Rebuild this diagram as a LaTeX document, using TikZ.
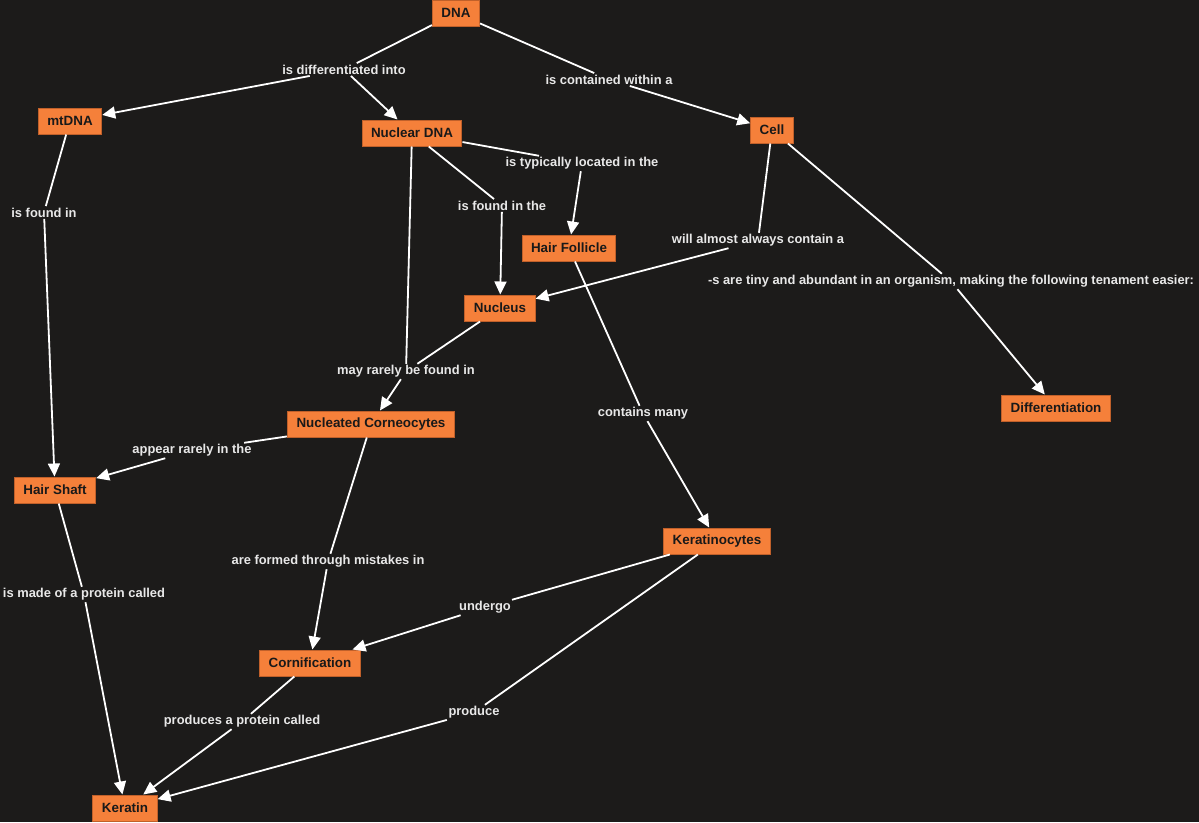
\documentclass[tikz,border=0pt]{standalone}
\usepackage{fontspec}
\setmainfont{Liberation Sans}
\usetikzlibrary{arrows.meta}
\definecolor{bgdark}{HTML}{1C1B1A}
\definecolor{cmaporange}{HTML}{F5803A}
\definecolor{cmapedge}{HTML}{C0602A}
\definecolor{linkgray}{HTML}{E8E8E8}
\begin{document}
\begin{tikzpicture}[
  x=1pt,y=-1pt,
  concept/.style={draw=cmapedge,fill=cmaporange,line width=1pt,minimum height=26pt,inner xsep=9pt,inner ysep=0pt,font=\fontsize{13.4}{15}\selectfont\bfseries,text=black!90},
  linkword/.style={fill=bgdark,inner sep=1.5pt,yshift=-1.5pt,text=linkgray,font=\fontsize{12.9}{14}\selectfont\bfseries},
  link/.style={white,line width=1.8pt},
  arrowlink/.style={link,-{Triangle[length=13pt,width=12pt]}}
]
  \fill[bgdark] (0,0) rectangle (1199,822);
  \useasboundingbox (0,0) rectangle (1199,822);

  \node[concept] (dna) at (456,13) {DNA};
  \node[concept] (mtdna) at (70,121) {mtDNA};
  \node[concept] (nucdna) at (412,133) {Nuclear DNA};
  \node[concept] (cell) at (772,130) {Cell};
  \node[concept] (follicle) at (569,248) {Hair Follicle};
  \node[concept] (nucleus) at (500,308) {Nucleus};
  \node[concept] (diff) at (1056,408) {Differentiation};
  \node[concept] (corneo) at (371,424) {Nucleated Corneocytes};
  \node[concept] (shaft) at (55,490) {Hair Shaft};
  \node[concept] (kcytes) at (717,541) {Keratinocytes};
  \node[concept] (cornif) at (310,663) {Cornification};
  \node[concept] (keratin) at (125,808) {Keratin};

  \node[linkword] (lDiffInto) at (344,68) {is differentiated into};
  \node[linkword] (lContained) at (609,78) {is contained within a};
  \node[linkword] (lFoundIn) at (44,211) {is found in};
  \node[linkword] (lLocated) at (582,162) {is typically located in the};
  \node[linkword] (lFoundThe) at (502,204) {is found in the};
  \node[linkword] (lContain) at (758,239) {will almost always contain a};
  \node[linkword] (lTiny) at (951,280) {-s are tiny and abundant in an organism, making the following tenament easier:};
  \node[linkword] (lRarely) at (406,370) {may rarely be found in};
  \node[linkword] (lMany) at (643,412) {contains many};
  \node[linkword] (lAppear) at (192,449) {appear rarely in the};
  \node[linkword] (lMistakes) at (328,560) {are formed through mistakes in};
  \node[linkword] (lMadeOf) at (84,593) {is made of a protein called};
  \node[linkword] (lUndergo) at (485,606) {undergo};
  \node[linkword] (lProduce) at (474,711) {produce};
  \node[linkword] (lProtein) at (242,720) {produces a protein called};

  \draw[link] (dna) -- (lDiffInto);
  \draw[arrowlink] (lDiffInto) -- (mtdna);
  \draw[arrowlink] (lDiffInto) -- (nucdna);
  \draw[link] (dna) -- (lContained);
  \draw[arrowlink] (lContained) -- (cell);
  \draw[link] (mtdna) -- (lFoundIn);
  \draw[arrowlink] (lFoundIn) -- (shaft);
  \draw[link] (nucdna) -- (lLocated);
  \draw[arrowlink] (lLocated) -- (follicle);
  \draw[link] (nucdna) -- (lFoundThe);
  \draw[arrowlink] (lFoundThe) -- (nucleus);
  \draw[link] (nucdna) -- (lRarely);
  \draw[link] (nucleus) -- (lRarely);
  \draw[arrowlink] (lRarely) -- (corneo);
  \draw[link] (cell) -- (lContain);
  \draw[arrowlink] (lContain) -- (nucleus);
  \draw[link] (cell) -- (lTiny);
  \draw[arrowlink] (lTiny) -- (diff);
  \draw[link] (follicle) -- (lMany);
  \draw[arrowlink] (lMany) -- (kcytes);
  \draw[link] (corneo) -- (lAppear);
  \draw[arrowlink] (lAppear) -- (shaft);
  \draw[link] (corneo) -- (lMistakes);
  \draw[arrowlink] (lMistakes) -- (cornif);
  \draw[link] (shaft) -- (lMadeOf);
  \draw[arrowlink] (lMadeOf) -- (keratin);
  \draw[link] (kcytes) -- (lUndergo);
  \draw[arrowlink] (lUndergo) -- (cornif);
  \draw[link] (kcytes) -- (lProduce);
  \draw[arrowlink] (lProduce) -- (keratin);
  \draw[link] (cornif) -- (lProtein);
  \draw[arrowlink] (lProtein) -- (keratin);
\end{tikzpicture}
\end{document}
